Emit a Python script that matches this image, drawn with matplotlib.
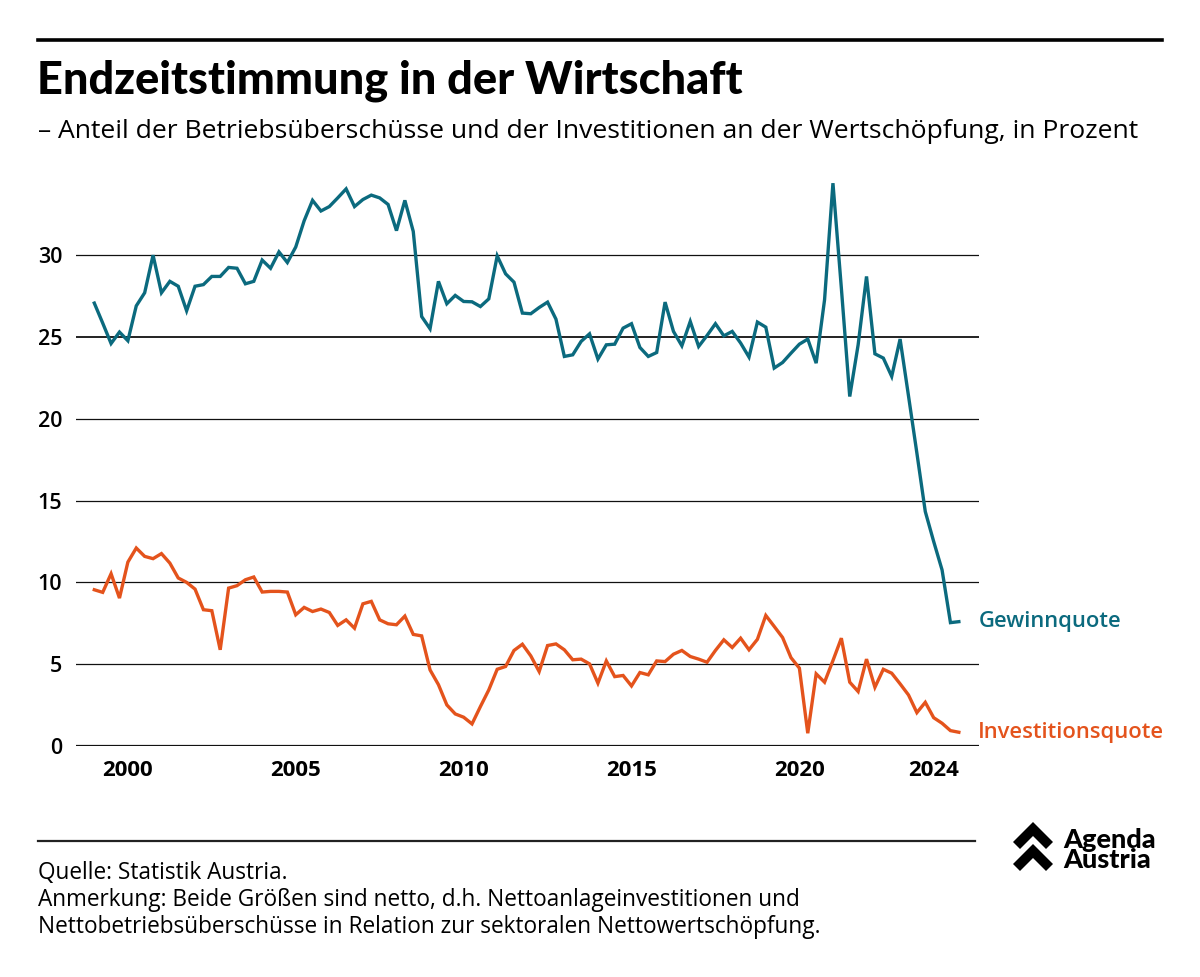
import numpy as np
import matplotlib
matplotlib.use("Agg")
import matplotlib.pyplot as plt
from matplotlib.lines import Line2D
from matplotlib.patches import Polygon

plt.rcParams['font.family'] = ['Open Sans', 'DejaVu Sans']

# quarterly data 1999Q1 - 2024Q4
start_year = 1999
gewinnquote = [
    27.07, 25.85, 24.6, 25.3, 24.77, 26.9, 27.7, 30.0, 27.7, 28.4,
    28.1, 26.6, 28.1, 28.2, 28.7, 28.7, 29.25, 29.2, 28.25, 28.4,
    29.7, 29.2, 30.2, 29.55, 30.5, 32.1, 33.35, 32.7, 32.97, 33.5,
    34.05, 32.97, 33.4, 33.67, 33.5, 33.1, 31.5, 33.35, 31.45, 26.25,
    25.5, 28.4, 27.03, 27.54, 27.17, 27.15, 26.86, 27.33, 29.96, 28.86,
    28.35, 26.46, 26.42, 26.8, 27.13, 26.09, 23.81, 23.91, 24.73, 25.19,
    23.65, 24.52, 24.56, 25.54, 25.81, 24.36, 23.81, 24.05, 27.13, 25.34,
    24.46, 25.95, 24.42, 25.09, 25.81, 25.07, 25.34, 24.63, 23.77, 25.91,
    25.6, 23.1, 23.44, 24.01, 24.56, 24.87, 23.4, 27.27, 34.4, 28.0,
    21.36, 24.52, 28.7, 23.97, 23.71, 22.59, 24.87, 21.4, 17.9, 14.33,
    12.5, 10.76, 7.54, 7.6,
]
investitionsquote = [
    9.55, 9.39, 10.53, 9.04, 11.24, 12.1, 11.59, 11.45, 11.76, 11.18,
    10.27, 10.0, 9.59, 8.33, 8.27, 5.88, 9.65, 9.8, 10.16, 10.33,
    9.41, 9.45, 9.45, 9.41, 8.02, 8.47, 8.22, 8.37, 8.16, 7.37,
    7.71, 7.2, 8.69, 8.84, 7.71, 7.47, 7.41, 7.94, 6.82, 6.73,
    4.65, 3.75, 2.51, 1.96, 1.76, 1.35, 2.41, 3.43, 4.69, 4.86,
    5.84, 6.22, 5.51, 4.55, 6.14, 6.24, 5.88, 5.27, 5.31, 5.02,
    3.84, 5.2, 4.24, 4.31, 3.67, 4.49, 4.35, 5.2, 5.16, 5.61,
    5.84, 5.47, 5.31, 5.12, 5.84, 6.49, 6.02, 6.59, 5.88, 6.52,
    7.98, 7.31, 6.63, 5.4, 4.76, 0.78, 4.41, 3.9, 5.22, 6.59,
    3.9, 3.33, 5.31, 3.59, 4.69, 4.45, 3.8, 3.12, 2.04, 2.67,
    1.73, 1.39, 0.94, 0.84,
]
x = start_year + np.arange(len(gewinnquote)) / 4.0
x_ticks = [2000, 2005, 2010, 2015, 2020, 2024]
y_ticks = [0, 5, 10, 15, 20, 25, 30]

teal = '#0b6a7e'
orange = '#e4531c'

W, H = 1200, 977
fig = plt.figure(figsize=(W / 100, H / 100), dpi=100)

def fx(px):
    return px / W

def fy(py):
    return 1 - py / H

ax = fig.add_axes([fx(76), fy(746), fx(979) - fx(76), fy(157) - fy(746)])

# gridlines
for v in y_ticks[1:]:
    lw = 1.3 if v == 25 else 0.9
    ax.axhline(v, color='#111111', lw=lw, zorder=1)
ax.axhline(0, color='#111111', lw=1.6, zorder=1)

ax.plot(x, gewinnquote, color=teal, lw=2.4, zorder=3, solid_joinstyle='miter')
ax.plot(x, investitionsquote, color=orange, lw=2.4, zorder=3, solid_joinstyle='miter')

ax.set_xlim(1998.455, 2025.35)
ax.set_ylim(0, 36)
for s in ax.spines.values():
    s.set_visible(False)
ax.set_yticks(y_ticks)
ax.set_yticklabels([str(v) for v in y_ticks], fontsize=15.5, fontweight='semibold')
ax.set_xticks(x_ticks)
ax.set_xticklabels([str(v) for v in x_ticks], fontsize=16, fontweight='bold')
ax.tick_params(axis='y', length=0, pad=10)
ax.tick_params(axis='x', length=0, pad=10)

# series labels at the end
ax.annotate('Gewinnquote', xy=(x[-1], gewinnquote[-1]), xytext=(14, 0),
            textcoords='offset points', color=teal, fontsize=15.8,
            fontweight='semibold', va='center', ha='left', annotation_clip=False)
ax.annotate('Investitionsquote', xy=(x[-1], investitionsquote[-1]), xytext=(14, 0),
            textcoords='offset points', color=orange, fontsize=15.8,
            fontweight='semibold', va='center', ha='left', annotation_clip=False)

# header
fig.add_artist(Line2D([fx(38), fx(1162)], [fy(40), fy(40)], color='black', lw=2.6))
fig.text(fx(37), fy(93), 'Endzeitstimmung in der Wirtschaft', fontsize=32.5,
         fontweight='black', va='baseline', ha='left', family=['Lato', 'DejaVu Sans'])
fig.text(fx(38), fy(138), '– Anteil der Betriebsüberschüsse und der Investitionen an der Wertschöpfung, in Prozent',
         fontsize=19.05, va='baseline', ha='left')

# footer
fig.add_artist(Line2D([fx(38), fx(975)], [fy(841), fy(841)], color='#222222', lw=1.6))
footer = ['Quelle: Statistik Austria.',
          'Anmerkung: Beide Größen sind netto, d.h. Nettoanlageinvestitionen und',
          'Nettobetriebsüberschüsse in Relation zur sektoralen Nettowertschöpfung.']
for i, line in enumerate(footer):
    fig.text(fx(38), fy(879 + i * 27), line, fontsize=16.3, va='baseline', ha='left')

# logo
for dy in (0, 22):
    pts = [(1013, 842), (1033, 822), (1053, 842), (1046, 849), (1033, 836), (1020, 849)]
    fig.add_artist(Polygon([(fx(a), fy(b + dy)) for a, b in pts], closed=True,
                           facecolor='black', edgecolor='none'))
fig.text(fx(1063), fy(868), 'Agenda\nAustria', fontsize=19.5, fontweight='black',
         va='baseline', ha='left', linespacing=0.8, family=['Lato', 'DejaVu Sans'])

fig.savefig('out.png', dpi=100)
